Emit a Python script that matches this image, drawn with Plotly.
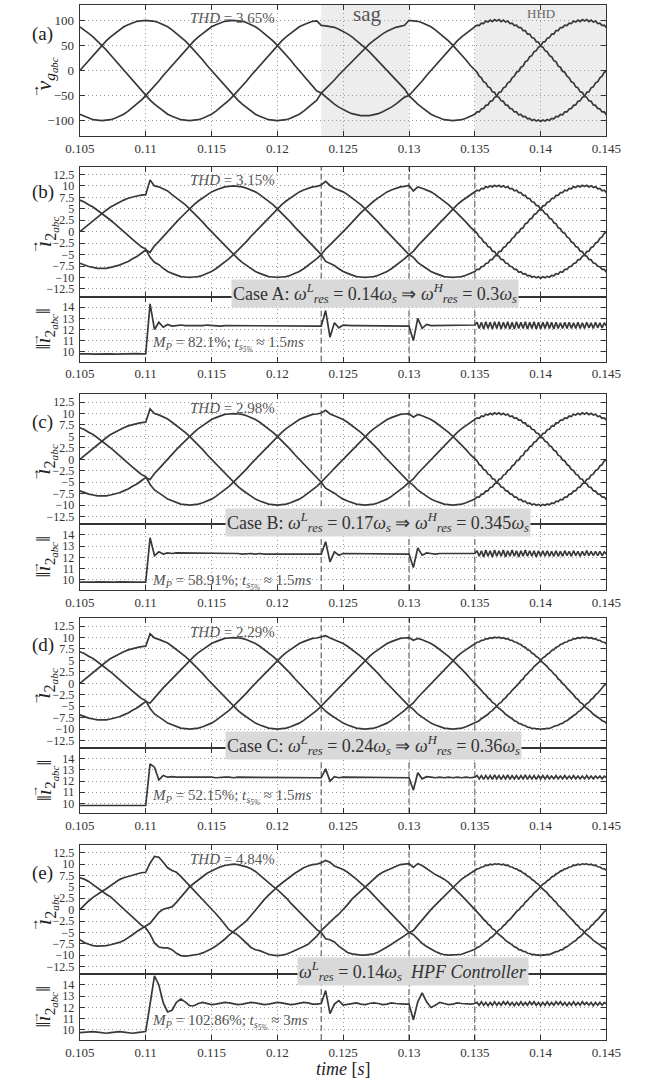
import numpy as np
import plotly.graph_objects as go

# ---------------- data ----------------
# sample times: every 1/3 ms up to 0.135 s, then every 1/6 ms through the HHD interval
t_s = np.round(np.concatenate([0.105 + np.arange(91) / 3000.0,
                               0.135 + np.arange(1, 61) / 6000.0]), 7)

x_ticks = [0.105, 0.11, 0.115, 0.12, 0.125, 0.13, 0.135, 0.14, 0.145]
x_ticktext = ["0.105", "0.11", "0.115", "0.12", "0.125", "0.13", "0.135", "0.14", "0.145"]
v_ticks = [-100, -50, 0, 50, 100]
i_ticks = [-12.5, -10, -7.5, -5, -2.5, 0, 2.5, 5, 7.5, 10, 12.5]
n_ticks = [10, 11, 12, 13, 14]
event_times = [0.12333, 0.13, 0.135]
sag_span = [0.12333, 0.13]
hhd_span = [0.135, 0.145]

# (a) grid voltages
vg_a = [0, 10, 21, 31, 41, 50, 59, 67, 74, 81, 87, 91, 95, 98, 99,
        100, 99, 98, 95, 91, 87, 81, 74, 67, 59, 50, 41, 31, 21, 10,
        0, -10, -21, -31, -41, -50, -59, -67, -74, -81, -87, -91, -95, -98, -99,
        -100, -99, -98, -95, -91, -87, -81, -74, -67, -59,
        -45, -37, -28, -19, -9,
        0, 9, 19, 28, 37, 45, 53, 60, 67, 73, 78, 82, 86, 88, 90,
        100, 99, 98, 95, 91, 87, 81, 74, 67, 59, 50, 41, 31, 21, 10,
        0,
        -3.5, -11.5, -14.5, -22.5, -24.5, -32.5, -34.5, -42.5, -43.5, -51.5, -53.5, -60.5, -61.5, -68.5, -69.5,
        -75.5, -76.5, -82.5, -82.5, -88.5, -87.5, -92.5, -91.5, -96.5, -95.5, -99.5, -97.5, -100.5, -98.5, -101.5,
        -98.5, -100.5, -97.5, -99.5, -95.5, -96.5, -91.5, -92.5, -87.5, -88.5, -82.5, -82.5, -76.5, -75.5, -69.5,
        -68.5, -61.5, -60.5, -53.5, -51.5, -43.5, -42.5, -34.5, -32.5, -24.5, -22.5, -14.5, -11.5, -3.5, -1.5]
vg_b = [-87, -91, -95, -98, -99, -100, -99, -98, -95, -91, -87, -81, -74, -67, -59, -50, -41, -31, -21, -10,
        0, 10, 21, 31, 41, 50, 59, 67, 74, 81, 87, 91, 95, 98, 99, 100, 99, 98, 95, 91, 87, 81, 74, 67, 59,
        50, 41, 31, 21, 10, 0, -10, -21, -31, -41,
        -45, -53, -60, -67, -73, -78, -82, -86, -88, -90, -90, -90, -88, -86, -82, -78, -73, -67, -60, -53,
        -50, -41, -31, -21, -10,
        0, 10, 21, 31, 41, 50, 59, 67, 74, 81, 87,
        90.5, 89.5, 94.5, 93.5, 98.5, 96.5, 100.5, 97.5, 101.5, 98.5, 101.5, 97.5, 100.5, 96.5, 98.5,
        93.5, 94.5, 89.5, 90.5, 85.5, 85.5, 79.5, 79.5, 72.5, 72.5, 65.5, 64.5, 57.5, 56.5, 48.5,
        46.5, 39.5, 37.5, 29.5, 27.5, 19.5, 17.5, 8.5, 6.5, -1.5, -3.5, -11.5, -14.5, -22.5, -24.5,
        -32.5, -34.5, -42.5, -43.5, -51.5, -53.5, -60.5, -61.5, -68.5, -69.5, -75.5, -76.5, -82.5, -82.5, -88.5]
vg_c = [87, 81, 74, 67, 59, 50, 41, 31, 21, 10, 0, -10, -21, -31, -41, -50, -59, -67, -74, -81,
        -87, -91, -95, -98, -99, -100, -99, -98, -95, -91, -87, -81, -74, -67, -59, -50, -41, -31, -21, -10,
        0, 10, 21, 31, 41, 50, 59, 67, 74, 81, 87, 91, 95, 98, 99,
        90, 89, 88, 86, 82, 78, 73, 67, 60, 53, 45, 37, 28, 19, 9, 0, -9, -19, -28, -37,
        -50, -59, -67, -74, -81, -87, -91, -95, -98, -99, -100, -99, -98, -95, -91, -87,
        -82.5, -82.5, -76.5, -75.5, -69.5, -68.5, -61.5, -60.5, -53.5, -51.5, -43.5, -42.5, -34.5, -32.5, -24.5,
        -22.5, -14.5, -11.5, -3.5, -1.5, 6.5, 8.5, 17.5, 19.5, 27.5, 29.5, 37.5, 39.5, 46.5, 48.5,
        56.5, 57.5, 64.5, 65.5, 72.5, 72.5, 79.5, 79.5, 85.5, 85.5, 90.5, 89.5, 94.5, 93.5, 98.5,
        96.5, 100.5, 97.5, 101.5, 98.5, 101.5, 97.5, 100.5, 96.5, 98.5, 93.5, 94.5, 89.5, 90.5, 85.5]

# (b) Case A currents
ib_a = [0, 0.8, 1.7, 2.5, 3.3, 4.0, 4.7, 5.4, 5.9, 6.5, 6.9, 7.3, 7.6, 7.8, 8.0,
        8.1, 11.3, 10.0, 9.8, 9.4, 8.9,
        8.1, 7.4, 6.7, 5.9, 5.0, 4.1, 3.1, 2.1, 1.0,
        0, -1.0, -2.1, -3.1, -4.1, -5.0, -5.9, -6.7, -7.4, -8.1, -8.7, -9.1, -9.5, -9.8, -9.9,
        -10, -9.9, -9.8, -9.5, -9.1, -8.7, -8.1, -7.4, -6.7, -5.9, -5.0, -3.8, -2.9, -2.0, -1.0,
        0, 1.0, 2.1, 3.1, 4.1, 5.0, 5.9, 6.7, 7.4, 8.1, 8.7, 9.1, 9.5, 9.8, 9.9,
        10.1, 8.9, 9.8, 9.5, 9.1,
        8.7, 8.1, 7.4, 6.7, 5.9, 5.0, 4.1, 3.1, 2.1, 1.0,
        0,
        -0.35, -1.15, -1.45, -2.25, -2.45, -3.25, -3.45, -4.25, -4.35, -5.15, -5.35, -6.05, -6.15, -6.85, -6.95,
        -7.55, -7.65, -8.25, -8.25, -8.85, -8.75, -9.25, -9.15, -9.65, -9.55, -9.95, -9.75, -10.05, -9.85, -10.15,
        -9.85, -10.05, -9.75, -9.95, -9.55, -9.65, -9.15, -9.25, -8.75, -8.85, -8.25, -8.25, -7.65, -7.55, -6.95,
        -6.85, -6.15, -6.05, -5.35, -5.15, -4.35, -4.25, -3.45, -3.25, -2.45, -2.25, -1.45, -1.15, -0.35, -0.15]
ib_b = [-6.9, -7.3, -7.6, -7.8, -8.0, -8.0, -8.0, -7.8, -7.6, -7.3, -6.9, -6.5, -5.9, -5.4, -4.7,
        -4.0, -4.5, -3.1, -2.1, -1.0,
        0, 1.0, 2.1, 3.1, 4.1, 5.0, 5.9, 6.7, 7.4, 8.1, 8.7, 9.1, 9.5, 9.8, 9.9,
        10, 9.9, 9.8, 9.5, 9.1, 8.7, 8.1, 7.4, 6.7, 5.9, 5.0, 4.1, 3.1, 2.1, 1.0,
        0, -1.0, -2.1, -3.1, -4.1,
        -5.0, -6.5, -6.9, -7.4, -8.1, -8.7, -9.1, -9.5, -9.8, -9.9,
        -10, -9.9, -9.8, -9.5, -9.1, -8.7, -8.1, -7.4, -6.7, -5.9, -5.0, -4.3, -3.1, -2.1, -1.0,
        0, 1.0, 2.1, 3.1, 4.1, 5.0, 5.9, 6.7, 7.4, 8.1, 8.7,
        9.05, 8.95, 9.45, 9.35, 9.85, 9.65, 10.05, 9.75, 10.15, 9.85, 10.15, 9.75, 10.05, 9.65, 9.85,
        9.35, 9.45, 8.95, 9.05, 8.55, 8.55, 7.95, 7.95, 7.25, 7.25, 6.55, 6.45, 5.75, 5.65, 4.85,
        4.65, 3.95, 3.75, 2.95, 2.75, 1.95, 1.75, 0.85, 0.65, -0.15, -0.35, -1.15, -1.45, -2.25, -2.45,
        -3.25, -3.45, -4.25, -4.35, -5.15, -5.35, -6.05, -6.15, -6.85, -6.95, -7.55, -7.65, -8.25, -8.25, -8.85]
ib_c = [6.9, 6.5, 5.9, 5.4, 4.7, 4.0, 3.3, 2.5, 1.7, 0.8, 0, -0.8, -1.7, -2.5, -3.3,
        -3.8, -5.6, -6.7, -7.2, -8.0, -8.7, -9.1, -9.5, -9.8, -9.9,
        -10, -9.9, -9.8, -9.5, -9.1, -8.7, -8.1, -7.4, -6.7, -5.9, -5.0, -4.1, -3.1, -2.1, -1.0,
        0, 1.0, 2.1, 3.1, 4.1, 5.0, 5.9, 6.7, 7.4, 8.1, 8.7, 9.1, 9.5, 9.8, 9.9,
        10.2, 11.0, 10.1, 9.5, 9.1, 8.7, 8.1, 7.4, 6.7, 5.9, 5.0, 4.1, 3.1, 2.1, 1.0,
        0, -1.0, -2.1, -3.1, -4.1, -5.0, -5.6, -6.7, -7.4, -8.1, -8.7, -9.1, -9.5, -9.8, -9.9,
        -10, -9.9, -9.8, -9.5, -9.1, -8.7,
        -8.25, -8.25, -7.65, -7.55, -6.95, -6.85, -6.15, -6.05, -5.35, -5.15, -4.35, -4.25, -3.45, -3.25, -2.45,
        -2.25, -1.45, -1.15, -0.35, -0.15, 0.65, 0.85, 1.75, 1.95, 2.75, 2.95, 3.75, 3.95, 4.65, 4.85,
        5.65, 5.75, 6.45, 6.55, 7.25, 7.25, 7.95, 7.95, 8.55, 8.55, 9.05, 8.95, 9.45, 9.35, 9.85,
        9.65, 10.05, 9.75, 10.15, 9.85, 10.15, 9.75, 10.05, 9.65, 9.85, 9.35, 9.45, 8.95, 9.05, 8.55]

# (c) Case B currents
ic_a = [0, 0.8, 1.7, 2.5, 3.3, 4.0, 4.7, 5.4, 5.9, 6.5, 6.9, 7.3, 7.6, 7.8, 8.0,
        8.1, 11.0, 10.0, 9.7, 9.3, 8.8,
        8.1, 7.4, 6.7, 5.9, 5.0, 4.1, 3.1, 2.1, 1.0,
        0, -1.0, -2.1, -3.1, -4.1, -5.0, -5.9, -6.7, -7.4, -8.1, -8.7, -9.1, -9.5, -9.8, -9.9,
        -10, -9.9, -9.8, -9.5, -9.1, -8.7, -8.1, -7.4, -6.7, -5.9, -5.0, -3.9, -3.0, -2.0, -1.0,
        0, 1.0, 2.1, 3.1, 4.1, 5.0, 5.9, 6.7, 7.4, 8.1, 8.7, 9.1, 9.5, 9.8, 9.9,
        10.0, 9.2, 9.8, 9.5, 9.1,
        8.7, 8.1, 7.4, 6.7, 5.9, 5.0, 4.1, 3.1, 2.1, 1.0,
        0,
        -0.35, -1.15, -1.45, -2.25, -2.45, -3.25, -3.45, -4.25, -4.35, -5.15, -5.35, -6.05, -6.15, -6.85, -6.95,
        -7.55, -7.65, -8.25, -8.25, -8.85, -8.75, -9.25, -9.15, -9.65, -9.55, -9.95, -9.75, -10.05, -9.85, -10.15,
        -9.85, -10.05, -9.75, -9.95, -9.55, -9.65, -9.15, -9.25, -8.75, -8.85, -8.25, -8.25, -7.65, -7.55, -6.95,
        -6.85, -6.15, -6.05, -5.35, -5.15, -4.35, -4.25, -3.45, -3.25, -2.45, -2.25, -1.45, -1.15, -0.35, -0.15]
ic_b = [-6.9, -7.3, -7.6, -7.8, -8.0, -8.0, -8.0, -7.8, -7.6, -7.3, -6.9, -6.5, -5.9, -5.4, -4.7,
        -4.0, -4.4, -3.1, -2.1, -1.0,
        0, 1.0, 2.1, 3.1, 4.1, 5.0, 5.9, 6.7, 7.4, 8.1, 8.7, 9.1, 9.5, 9.8, 9.9,
        10, 9.9, 9.8, 9.5, 9.1, 8.7, 8.1, 7.4, 6.7, 5.9, 5.0, 4.1, 3.1, 2.1, 1.0,
        0, -1.0, -2.1, -3.1, -4.1,
        -5.0, -6.3, -6.8, -7.4, -8.1, -8.7, -9.1, -9.5, -9.8, -9.9,
        -10, -9.9, -9.8, -9.5, -9.1, -8.7, -8.1, -7.4, -6.7, -5.9, -5.0, -4.3, -3.1, -2.1, -1.0,
        0, 1.0, 2.1, 3.1, 4.1, 5.0, 5.9, 6.7, 7.4, 8.1, 8.7,
        9.05, 8.95, 9.45, 9.35, 9.85, 9.65, 10.05, 9.75, 10.15, 9.85, 10.15, 9.75, 10.05, 9.65, 9.85,
        9.35, 9.45, 8.95, 9.05, 8.55, 8.55, 7.95, 7.95, 7.25, 7.25, 6.55, 6.45, 5.75, 5.65, 4.85,
        4.65, 3.95, 3.75, 2.95, 2.75, 1.95, 1.75, 0.85, 0.65, -0.15, -0.35, -1.15, -1.45, -2.25, -2.45,
        -3.25, -3.45, -4.25, -4.35, -5.15, -5.35, -6.05, -6.15, -6.85, -6.95, -7.55, -7.65, -8.25, -8.25, -8.85]
ic_c = [6.9, 6.5, 5.9, 5.4, 4.7, 4.0, 3.3, 2.5, 1.7, 0.8, 0, -0.8, -1.7, -2.5, -3.3,
        -3.8, -5.5, -6.7, -7.3, -8.0, -8.7, -9.1, -9.5, -9.8, -9.9,
        -10, -9.9, -9.8, -9.5, -9.1, -8.7, -8.1, -7.4, -6.7, -5.9, -5.0, -4.1, -3.1, -2.1, -1.0,
        0, 1.0, 2.1, 3.1, 4.1, 5.0, 5.9, 6.7, 7.4, 8.1, 8.7, 9.1, 9.5, 9.8, 9.9,
        10.1, 10.7, 9.9, 9.5, 9.1, 8.7, 8.1, 7.4, 6.7, 5.9, 5.0, 4.1, 3.1, 2.1, 1.0,
        0, -1.0, -2.1, -3.1, -4.1, -5.0, -5.7, -6.7, -7.4, -8.1, -8.7, -9.1, -9.5, -9.8, -9.9,
        -10, -9.9, -9.8, -9.5, -9.1, -8.7,
        -8.25, -8.25, -7.65, -7.55, -6.95, -6.85, -6.15, -6.05, -5.35, -5.15, -4.35, -4.25, -3.45, -3.25, -2.45,
        -2.25, -1.45, -1.15, -0.35, -0.15, 0.65, 0.85, 1.75, 1.95, 2.75, 2.95, 3.75, 3.95, 4.65, 4.85,
        5.65, 5.75, 6.45, 6.55, 7.25, 7.25, 7.95, 7.95, 8.55, 8.55, 9.05, 8.95, 9.45, 9.35, 9.85,
        9.65, 10.05, 9.75, 10.15, 9.85, 10.15, 9.75, 10.05, 9.65, 9.85, 9.35, 9.45, 8.95, 9.05, 8.55]

# (d) Case C currents
id_a = [0, 0.8, 1.7, 2.5, 3.3, 4.0, 4.7, 5.4, 5.9, 6.5, 6.9, 7.3, 7.6, 7.8, 8.0,
        8.1, 10.8, 9.9, 9.6, 9.2, 8.8,
        8.1, 7.4, 6.7, 5.9, 5.0, 4.1, 3.1, 2.1, 1.0,
        0, -1.0, -2.1, -3.1, -4.1, -5.0, -5.9, -6.7, -7.4, -8.1, -8.7, -9.1, -9.5, -9.8, -9.9,
        -10, -9.9, -9.8, -9.5, -9.1, -8.7, -8.1, -7.4, -6.7, -5.9, -5.0, -4.0, -3.0, -2.1, -1.0,
        0, 1.0, 2.1, 3.1, 4.1, 5.0, 5.9, 6.7, 7.4, 8.1, 8.7, 9.1, 9.5, 9.8, 9.9,
        10.0, 9.4, 9.8, 9.5, 9.1,
        8.7, 8.1, 7.4, 6.7, 5.9, 5.0, 4.1, 3.1, 2.1, 1.0,
        0,
        -0.43, -1.07, -1.53, -2.17, -2.53, -3.17, -3.53, -4.17, -4.43, -5.07, -5.43, -5.97, -6.23, -6.77, -7.03,
        -7.47, -7.73, -8.17, -8.33, -8.77, -8.83, -9.17, -9.23, -9.57, -9.63, -9.87, -9.83, -9.97, -9.93, -10.07,
        -9.93, -9.97, -9.83, -9.87, -9.63, -9.57, -9.23, -9.17, -8.83, -8.77, -8.33, -8.17, -7.73, -7.47, -7.03,
        -6.77, -6.23, -5.97, -5.43, -5.07, -4.43, -4.17, -3.53, -3.17, -2.53, -2.17, -1.53, -1.07, -0.43, -0.07]
id_b = [-6.9, -7.3, -7.6, -7.8, -8.0, -8.0, -8.0, -7.8, -7.6, -7.3, -6.9, -6.5, -5.9, -5.4, -4.7,
        -4.0, -4.3, -3.1, -2.1, -1.0,
        0, 1.0, 2.1, 3.1, 4.1, 5.0, 5.9, 6.7, 7.4, 8.1, 8.7, 9.1, 9.5, 9.8, 9.9,
        10, 9.9, 9.8, 9.5, 9.1, 8.7, 8.1, 7.4, 6.7, 5.9, 5.0, 4.1, 3.1, 2.1, 1.0,
        0, -1.0, -2.1, -3.1, -4.1,
        -5.0, -6.1, -6.8, -7.4, -8.1, -8.7, -9.1, -9.5, -9.8, -9.9,
        -10, -9.9, -9.8, -9.5, -9.1, -8.7, -8.1, -7.4, -6.7, -5.9, -5.0, -4.3, -3.1, -2.1, -1.0,
        0, 1.0, 2.1, 3.1, 4.1, 5.0, 5.9, 6.7, 7.4, 8.1, 8.7,
        8.97, 9.03, 9.37, 9.43, 9.77, 9.73, 9.97, 9.83, 10.07, 9.93, 10.07, 9.83, 9.97, 9.73, 9.77,
        9.43, 9.37, 9.03, 8.97, 8.63, 8.47, 8.03, 7.87, 7.33, 7.17, 6.63, 6.37, 5.83, 5.57, 4.93,
        4.57, 4.03, 3.67, 3.03, 2.67, 2.03, 1.67, 0.93, 0.57, -0.07, -0.43, -1.07, -1.53, -2.17, -2.53,
        -3.17, -3.53, -4.17, -4.43, -5.07, -5.43, -5.97, -6.23, -6.77, -7.03, -7.47, -7.73, -8.17, -8.33, -8.77]
id_c = [6.9, 6.5, 5.9, 5.4, 4.7, 4.0, 3.3, 2.5, 1.7, 0.8, 0, -0.8, -1.7, -2.5, -3.3,
        -3.8, -5.5, -6.7, -7.3, -8.0, -8.7, -9.1, -9.5, -9.8, -9.9,
        -10, -9.9, -9.8, -9.5, -9.1, -8.7, -8.1, -7.4, -6.7, -5.9, -5.0, -4.1, -3.1, -2.1, -1.0,
        0, 1.0, 2.1, 3.1, 4.1, 5.0, 5.9, 6.7, 7.4, 8.1, 8.7, 9.1, 9.5, 9.8, 9.9,
        10.1, 10.4, 9.9, 9.5, 9.1, 8.7, 8.1, 7.4, 6.7, 5.9, 5.0, 4.1, 3.1, 2.1, 1.0,
        0, -1.0, -2.1, -3.1, -4.1, -5.0, -5.7, -6.7, -7.4, -8.1, -8.7, -9.1, -9.5, -9.8, -9.9,
        -10, -9.9, -9.8, -9.5, -9.1, -8.7,
        -8.33, -8.17, -7.73, -7.47, -7.03, -6.77, -6.23, -5.97, -5.43, -5.07, -4.43, -4.17, -3.53, -3.17, -2.53,
        -2.17, -1.53, -1.07, -0.43, -0.07, 0.57, 0.93, 1.67, 2.03, 2.67, 3.03, 3.67, 4.03, 4.57, 4.93,
        5.57, 5.83, 6.37, 6.63, 7.17, 7.33, 7.87, 8.03, 8.47, 8.63, 8.97, 9.03, 9.37, 9.43, 9.77,
        9.73, 9.97, 9.83, 10.07, 9.93, 10.07, 9.83, 9.97, 9.73, 9.77, 9.43, 9.37, 9.03, 8.97, 8.63]

# (e) HPF controller currents
ie_a = [0, 1.0, 1.9, 2.7, 3.4, 4.0, 4.6, 5.3, 6.0, 6.6, 7.0, 7.3, 7.6, 7.9, 8.1,
        8.2, 10.2, 11.7, 11.5, 10.4, 9.2, 8.6, 8.2, 7.3, 6.3,
        5.2, 4.3, 3.3, 2.3, 1.2,
        0.1, -0.9, -2.0, -3.3, -4.4, -5.0, -5.6, -6.5, -7.5, -8.3, -8.8, -9.0, -9.4, -9.8, -10.0,
        -10.1, -10.0, -9.8, -9.4, -9.0, -8.6, -8.1, -7.6, -6.8, -5.8,
        -4.6, -3.6, -2.6, -1.8, -1.0,
        0, 1.1, 2.3, 3.2, 4.0, 4.9, 5.9, 6.9, 7.6, 8.2, 8.6, 9.0, 9.5, 9.9, 10.0,
        10.1, 9.3, 10.1, 9.7, 9.0,
        8.3, 7.7, 7.2, 6.7, 6.0, 5.1, 4.1, 3.1, 2.1, 1.1,
        0.1,
        -0.43, -1.07, -1.53, -2.17, -2.53, -3.17, -3.53, -4.17, -4.43, -5.07, -5.43, -5.97, -6.23, -6.77, -7.03,
        -7.47, -7.73, -8.17, -8.33, -8.77, -8.83, -9.17, -9.23, -9.57, -9.63, -9.87, -9.83, -9.97, -9.93, -10.07,
        -9.93, -9.97, -9.83, -9.87, -9.63, -9.57, -9.23, -9.17, -8.83, -8.77, -8.33, -8.17, -7.73, -7.47, -7.03,
        -6.77, -6.23, -5.97, -5.43, -5.07, -4.43, -4.17, -3.53, -3.17, -2.53, -2.17, -1.53, -1.07, -0.43, -0.07]
ie_b = [-6.6, -7.2, -7.6, -7.9, -8.0, -8.0, -7.9, -7.7, -7.5, -7.2, -6.8, -6.2, -5.5, -4.8, -4.1,
        -3.6, -3.0, -1.8, -0.6, 0.1, 0.3, 0.6, 1.6, 2.8, 3.9,
        5.0, 5.8, 6.6, 7.4, 8.0, 8.5, 9.0, 9.4, 9.7, 9.9,
        10.0, 9.9, 9.7, 9.4, 9.0, 8.4, 7.6, 6.7, 5.9, 5.1, 4.4, 3.6, 2.6, 1.5, 0.5,
        -0.5, -1.5, -2.5, -3.5, -4.4,
        -5.0, -6.4, -6.6, -7.1, -8.0, -8.8, -9.4, -9.7, -9.9, -10.0,
        -10.0, -9.9, -9.7, -9.3, -8.8, -8.2, -7.6, -7.0, -6.4, -5.7, -5.0, -4.6, -3.4, -2.2, -1.1,
        0, 1.0, 2.0, 3.0, 4.0, 4.9, 5.8, 6.7, 7.4, 8.0, 8.6,
        8.97, 9.03, 9.37, 9.43, 9.77, 9.73, 9.97, 9.83, 10.07, 9.93, 10.07, 9.83, 9.97, 9.73, 9.77,
        9.43, 9.37, 9.03, 8.97, 8.63, 8.47, 8.03, 7.87, 7.33, 7.17, 6.63, 6.37, 5.83, 5.57, 4.93,
        4.57, 4.03, 3.67, 3.03, 2.67, 2.03, 1.67, 0.93, 0.57, -0.07, -0.43, -1.07, -1.53, -2.17, -2.53,
        -3.17, -3.53, -4.17, -4.43, -5.07, -5.43, -5.97, -6.23, -6.77, -7.03, -7.47, -7.73, -8.17, -8.33, -8.77]
ie_c = [7.0, 6.7, 6.2, 5.5, 4.6, 3.9, 3.4, 2.8, 1.9, 0.9, 0.1, -0.8, -1.7, -2.7, -3.4,
        -4.0, -5.4, -7.3, -8.2, -8.4, -8.4, -8.8, -9.6, -10.1, -10.2,
        -10.1, -10.0, -9.8, -9.5, -9.1, -8.6, -8.0, -7.3, -6.5, -5.6, -4.8, -4.1, -3.3, -2.4, -1.3,
        -0.1, 1.0, 2.2, 3.2, 4.2, 5.0, 5.8, 6.6, 7.4, 8.0, 8.6, 9.2, 9.6, 9.9, 10.0,
        10.3, 10.8, 10.4, 9.6, 9.2, 8.8, 8.2, 7.5, 6.7, 5.8, 5.0, 4.1, 3.1, 2.1, 1.0,
        0, -1.0, -2.1, -3.1, -4.1, -5.0, -5.5, -6.5, -7.4, -8.1, -8.7, -9.2, -9.6, -9.9, -10.0,
        -10.0, -9.9, -9.8, -9.5, -9.1, -8.7,
        -8.33, -8.17, -7.73, -7.47, -7.03, -6.77, -6.23, -5.97, -5.43, -5.07, -4.43, -4.17, -3.53, -3.17, -2.53,
        -2.17, -1.53, -1.07, -0.43, -0.07, 0.57, 0.93, 1.67, 2.03, 2.67, 3.03, 3.67, 4.03, 4.57, 4.93,
        5.57, 5.83, 6.37, 6.63, 7.17, 7.33, 7.87, 8.03, 8.47, 8.63, 8.97, 9.03, 9.37, 9.43, 9.77,
        9.73, 9.97, 9.83, 10.07, 9.93, 10.07, 9.83, 9.97, 9.73, 9.77, 9.43, 9.37, 9.03, 8.97, 8.63]

# current norms ||i2abc||
nb = [9.8, 9.82, 9.8, 9.78, 9.8, 9.82, 9.8, 9.8, 9.78, 9.8, 9.82, 9.8, 9.8, 9.82, 9.8,
      9.8, 14.3, 12.0, 12.65, 12.2, 12.45, 12.3,
      12.35, 12.4, 12.35, 12.35, 12.3, 12.35, 12.35, 12.4, 12.35, 12.35, 12.3, 12.35, 12.35, 12.35, 12.3,
      12.35, 12.35, 12.3, 12.3, 12.35, 12.3, 12.3, 12.3, 12.35, 12.3, 12.3, 12.3, 12.3, 12.3, 12.3, 12.35,
      12.3, 12.3,
      12.3, 13.7, 11.3, 12.6, 12.15, 12.4,
      12.35, 12.35, 12.35, 12.35, 12.3, 12.35, 12.35, 12.35, 12.35, 12.35, 12.3, 12.3, 12.3, 12.3,
      12.3, 11.0, 13.0, 12.1, 12.45,
      12.35, 12.35, 12.35, 12.35, 12.35, 12.35, 12.4, 12.4, 12.4, 12.4, 12.4,
      12.65, 12.1, 12.65, 12.05, 12.7, 12.1, 12.65, 12.05, 12.7, 12.1, 12.7, 12.05, 12.65, 12.1, 12.7,
      12.05, 12.65, 12.05, 12.7, 12.1, 12.65, 12.1, 12.7, 12.05, 12.65, 12.1, 12.7, 12.05, 12.65, 12.05,
      12.65, 12.1, 12.7, 12.1, 12.65, 12.05, 12.65, 12.1, 12.6, 12.1, 12.65, 12.1, 12.65, 12.1, 12.6,
      12.1, 12.65, 12.1, 12.6, 12.1, 12.65, 12.15, 12.6, 12.1, 12.65, 12.15, 12.6, 12.15, 12.6, 12.3]
nc = [9.8, 9.78, 9.8, 9.8, 9.82, 9.8, 9.78, 9.8, 9.8, 9.82, 9.8, 9.8, 9.78, 9.8, 9.8,
      9.8, 13.75, 12.15, 12.5, 12.3, 12.4, 12.35,
      12.4, 12.4, 12.35, 12.4, 12.4, 12.35, 12.4, 12.4, 12.4, 12.35, 12.35, 12.4, 12.35, 12.35, 12.35,
      12.3, 12.35, 12.35, 12.3, 12.35, 12.3, 12.3, 12.3, 12.3, 12.3, 12.25, 12.3, 12.3, 12.25, 12.3,
      12.3, 12.25, 12.3,
      12.3, 13.4, 11.6, 12.5, 12.2, 12.35,
      12.35, 12.3, 12.35, 12.35, 12.3, 12.3, 12.35, 12.3, 12.3, 12.3, 12.3, 12.3, 12.3, 12.3,
      12.3, 11.1, 12.85, 12.2, 12.4,
      12.35, 12.3, 12.35, 12.35, 12.3, 12.35, 12.35, 12.3, 12.35, 12.35, 12.35,
      12.6, 12.1, 12.6, 12.05, 12.65, 12.1, 12.6, 12.05, 12.65, 12.1, 12.6, 12.1, 12.65, 12.05, 12.6,
      12.1, 12.65, 12.1, 12.6, 12.05, 12.6, 12.1, 12.65, 12.1, 12.6, 12.1, 12.6, 12.05, 12.6, 12.1,
      12.6, 12.1, 12.6, 12.1, 12.55, 12.1, 12.6, 12.1, 12.55, 12.1, 12.6, 12.15, 12.55, 12.1, 12.6,
      12.15, 12.55, 12.1, 12.55, 12.15, 12.6, 12.15, 12.55, 12.15, 12.55, 12.15, 12.55, 12.15, 12.5, 12.3]
nd = [9.8, 9.8, 9.82, 9.8, 9.78, 9.8, 9.8, 9.82, 9.8, 9.8, 9.78, 9.8, 9.8, 9.82, 9.8,
      9.8, 13.55, 13.25, 12.1, 12.5, 12.35, 12.4,
      12.35, 12.35, 12.4, 12.35, 12.35, 12.35, 12.4, 12.35, 12.35, 12.3, 12.35, 12.35, 12.35, 12.3, 12.35,
      12.35, 12.3, 12.3, 12.35, 12.3, 12.3, 12.3, 12.35, 12.3, 12.3, 12.3, 12.3, 12.3, 12.3, 12.3,
      12.3, 12.3, 12.3,
      12.3, 13.1, 12.0, 12.4, 12.3, 12.35,
      12.35, 12.3, 12.35, 12.3, 12.3, 12.35, 12.3, 12.3, 12.3, 12.3, 12.3, 12.3, 12.3, 12.3,
      12.3, 11.2, 12.75, 12.2, 12.4,
      12.35, 12.3, 12.35, 12.3, 12.35, 12.3, 12.35, 12.3, 12.35, 12.3, 12.35,
      12.5, 12.2, 12.5, 12.15, 12.5, 12.2, 12.5, 12.15, 12.55, 12.2, 12.5, 12.15, 12.5, 12.2, 12.55,
      12.15, 12.5, 12.2, 12.5, 12.15, 12.5, 12.2, 12.55, 12.15, 12.5, 12.2, 12.5, 12.15, 12.5, 12.2,
      12.5, 12.2, 12.5, 12.2, 12.45, 12.2, 12.5, 12.2, 12.45, 12.2, 12.5, 12.2, 12.45, 12.2, 12.5,
      12.2, 12.45, 12.2, 12.45, 12.2, 12.5, 12.2, 12.45, 12.2, 12.45, 12.25, 12.45, 12.2, 12.45, 12.3]
ne = [9.75, 9.8, 9.85, 9.85, 9.8, 9.72, 9.7, 9.75, 9.82, 9.85, 9.8, 9.72, 9.7, 9.75, 9.82,
      9.85, 12.3, 14.8, 14.0, 12.4, 11.6, 11.75, 12.45, 12.75, 12.5, 12.15, 12.15, 12.35, 12.45, 12.35,
      12.25, 12.3, 12.4, 12.45, 12.4, 12.3, 12.25, 12.3, 12.4, 12.45, 12.4, 12.3, 12.25, 12.3, 12.4,
      12.45, 12.4, 12.3, 12.25, 12.3, 12.4, 12.45, 12.4, 12.3, 12.3,
      12.35, 13.5, 11.45, 12.3, 12.6, 12.2, 12.25,
      12.35, 12.4, 12.3, 12.25, 12.35, 12.4, 12.35, 12.25, 12.3, 12.4, 12.35, 12.3, 12.3,
      12.3, 10.9, 12.5, 13.3, 12.5, 12.0, 12.2, 12.45, 12.35,
      12.25, 12.3, 12.4, 12.35, 12.3, 12.3, 12.35,
      12.45, 12.2, 12.5, 12.2, 12.45, 12.15, 12.45, 12.2, 12.5, 12.2, 12.45, 12.2, 12.5, 12.25, 12.5,
      12.2, 12.45, 12.15, 12.45, 12.2, 12.5, 12.2, 12.45, 12.2, 12.5, 12.25, 12.5, 12.2, 12.45, 12.15,
      12.45, 12.2, 12.5, 12.2, 12.45, 12.2, 12.5, 12.25, 12.5, 12.2, 12.45, 12.15, 12.45, 12.2, 12.5,
      12.2, 12.45, 12.2, 12.5, 12.25, 12.45, 12.2, 12.45, 12.15, 12.45, 12.2, 12.45, 12.2, 12.45, 12.3]

for _arr in [vg_a, vg_b, vg_c, ib_a, ib_b, ib_c, ic_a, ic_b, ic_c, id_a, id_b, id_c,
             ie_a, ie_b, ie_c, nb, nc, nd, ne]:
    assert len(_arr) == len(t_s), len(_arr)

# ---------------- figure ----------------
W, H = 652, 1081
X0, X1 = 68, 620
SERIF = "Liberation Serif"
LINE = "#383838"
FRAME = "#333333"
GRID = "#9a9a9a"


def py(p):
    return 1 - p / H


fig = go.Figure()

panels = [
    dict(name="a", cur=(5, 136), norm=None),
    dict(name="b", cur=(166.7, 296.7), norm=(296.7, 361.7)),
    dict(name="c", cur=(394.3, 524.3), norm=(524.3, 590)),
    dict(name="d", cur=(618.3, 748.3), norm=(748.3, 813.3)),
    dict(name="e", cur=(845, 974.3), norm=(974.3, 1040)),
]
phase_data = {"a": (vg_a, vg_b, vg_c), "b": (ib_a, ib_b, ib_c), "c": (ic_a, ic_b, ic_c),
              "d": (id_a, id_b, id_c), "e": (ie_a, ie_b, ie_c)}
norm_data = {"b": nb, "c": nc, "d": nd, "e": ne}


def xaxis_cfg(n, labels):
    return dict(domain=[X0 / W, X1 / W], anchor=f"y{n}", range=[0.105, 0.145],
                tickvals=x_ticks, ticktext=x_ticktext, showticklabels=labels,
                ticks="inside", ticklen=5, tickwidth=1, tickcolor=FRAME,
                showline=True, linecolor=FRAME, linewidth=1.3, mirror="ticks",
                showgrid=True, gridcolor=GRID, griddash="1px,3px", gridwidth=1,
                zeroline=False, tickfont=dict(family=SERIF, size=13, color="#333"))


def yaxis_cfg(n, dom, rng, vals, size):
    return dict(domain=[py(dom[1]), py(dom[0])], anchor=f"x{n}", range=rng,
                tickvals=vals, ticks="inside", ticklen=5, tickwidth=1, tickcolor=FRAME,
                showline=True, linecolor=FRAME, linewidth=1.3, mirror="ticks",
                showgrid=True, gridcolor=GRID, griddash="1px,3px", gridwidth=1,
                zeroline=False, tickfont=dict(family=SERIF, size=size, color="#333"),
                ticklabelstandoff=2)


layout = {}
shapes = []
n = 0
for p in panels:
    n += 1
    key = "" if n == 1 else str(n)
    if p["name"] == "a":
        layout["xaxis"] = xaxis_cfg(n, True)
        layout["yaxis"] = yaxis_cfg(n, p["cur"], [-130.5, 130.5], v_ticks, 13)
    else:
        layout["xaxis" + key] = xaxis_cfg(n, False)
        layout["yaxis" + key] = yaxis_cfg(n, p["cur"], [-14.2, 14.2], i_ticks, 12)
    for arr in phase_data[p["name"]]:
        fig.add_trace(go.Scatter(x=t_s, y=arr, mode="lines", xaxis="x" + key, yaxis="y" + key,
                                 line=dict(color=LINE, width=1.7), showlegend=False, hoverinfo="skip"))
    if p["norm"] is not None:
        cur_n = n
        n += 1
        key2 = str(n)
        layout["xaxis" + key2] = xaxis_cfg(n, True)
        layout["yaxis" + key2] = yaxis_cfg(n, p["norm"], [9.1, 14.95], n_ticks, 12)
        fig.add_trace(go.Scatter(x=t_s, y=norm_data[p["name"]], mode="lines",
                                 xaxis="x" + key2, yaxis="y" + key2,
                                 line=dict(color=LINE, width=1.7), showlegend=False, hoverinfo="skip"))
        for ax in (cur_n, n):
            kk = str(ax)
            for te in event_times:
                shapes.append(dict(type="line", xref="x" + kk, yref="y" + kk + " domain",
                                   x0=te, x1=te, y0=0, y1=1, layer="below",
                                   line=dict(color="#444", width=1, dash="6px,3px")))

# shaded sag / HHD intervals in (a)
for span in (sag_span, hhd_span):
    shapes.append(dict(type="rect", xref="x", yref="y domain", x0=span[0], x1=span[1], y0=0, y1=1,
                       fillcolor="#ecedec", line=dict(width=0), layer="below"))

annotations = []


def ann(text, x, y, size, color="#333", angle=0, xanchor="center", bg=None, pad=1):
    d = dict(text=text, x=x / W, y=py(y), xref="paper", yref="paper", showarrow=False,
             font=dict(family=SERIF, size=size, color=color), textangle=angle,
             xanchor=xanchor, yanchor="middle")
    if bg:
        d.update(bgcolor=bg, borderpad=pad)
    annotations.append(d)


# panel letters
for letter, yy in [("(a)", 34), ("(b)", 192), ("(c)", 421.7), ("(d)", 645), ("(e)", 873)]:
    ann(letter, 29, yy, 19, "#222")

# y-axis labels (vector arrows drawn as separate rotated glyphs)
i_lab = "<i>ı</i><sub>2<sub><i>abc</i></sub></sub>"
ann("<i>v</i><sub><i>g<sub>abc</sub></i></sub>", 32, 74, 22, "#222", angle=-90)
ann("→", 21, 91, 14, "#222", angle=-90)
for p in panels[1:]:
    zero = (p["cur"][0] + p["cur"][1]) / 2
    ann(i_lab, 32, zero, 23, "#222", angle=-90)
    ann("→", 20, zero + 15, 14, "#222", angle=-90)
    mid = (p["norm"][0] + p["norm"][1]) / 2
    ann("‖" + i_lab + "‖", 32, mid, 22, "#222", angle=-90)
    ann("→", 20, mid + 11, 13, "#222", angle=-90)

# THD labels
for txt, top in [("3.65%", 5), ("3.15%", 166.7), ("2.98%", 394.3), ("2.29%", 618.3), ("4.84%", 845)]:
    ann("<i>THD</i> = " + txt, 228, top + 13.5, 15, "#555")

# sag / HHD
ann("sag", 369, 14, 21, "#555")
ann("HHD", 551, 14, 13, "#666")

# case boxes
w_L = "<i>ω</i><sup><i>L</i></sup><sub><i>res</i></sub>"
w_H = "<i>ω</i><sup><i>H</i></sup><sub><i>res</i></sub>"
w_s = "<i>ω</i><sub><i>s</i></sub>"
ann("Case A: " + w_L + " = 0.14" + w_s + " ⇒ " + w_H + " = 0.3" + w_s, 377, 293.7, 18, "#333", bg="#d9d9d9")
ann("Case B: " + w_L + " = 0.17" + w_s + " ⇒ " + w_H + " = 0.345" + w_s, 380, 522, 18, "#333", bg="#d9d9d9")
ann("Case C: " + w_L + " = 0.24" + w_s + " ⇒ " + w_H + " = 0.36" + w_s, 376, 745.8, 18, "#333", bg="#d9d9d9")
ann(w_L + " = 0.14" + w_s + "  <i>HPF Controller</i>", 417.5, 971.3, 18, "#333", bg="#d9d9d9")

# overshoot / settling labels
mp = "<i>M<sub>P</sub></i> = {}; <i>t<sub>s<sub>5%</sub></sub></i> ≈ {}<i>ms</i>"
ann(mp.format("82.1%", "1.5"), 141.7, 344.3, 15, "#555", xanchor="left")
ann(mp.format("58.91%", "1.5"), 141.7, 581.7, 15, "#555", xanchor="left")
ann(mp.format("52.15%", "1.5"), 141.7, 796.7, 15, "#555", xanchor="left")
ann(mp.format("102.86%", "3"), 141.7, 1021.7, 15, "#555", xanchor="left")

# x-axis title
ann("<i>time</i> [<i>s</i>]", 344, 1069, 18, "#222")

fig.update_layout(width=W, height=H, margin=dict(l=0, r=0, t=0, b=0),
                  paper_bgcolor="white", plot_bgcolor="white",
                  font=dict(family=SERIF),
                  shapes=shapes, annotations=annotations, **layout)

fig.write_html("out.html")
